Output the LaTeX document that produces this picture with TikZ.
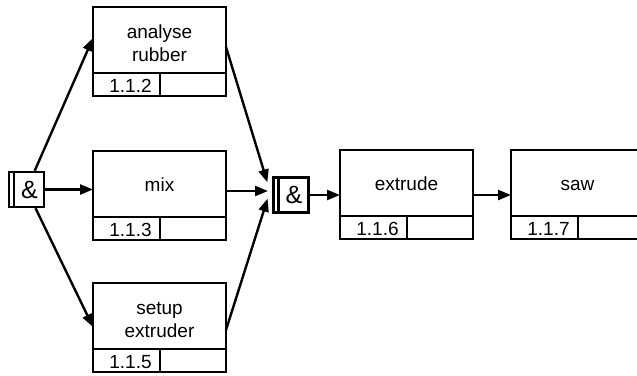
\documentclass[tikz,border=0pt]{standalone}
\usepackage{fontspec}
\setmainfont{Liberation Sans}
\usetikzlibrary{arrows.meta,calc}
\newcommand\actlines[1]{\raisebox{-5pt}[\height][\depth]{\begin{tabular}{@{}c@{}}#1\end{tabular}}}
\begin{document}
\begin{tikzpicture}[x=1pt,y=-1pt,
  lw/.style={line width=2.4pt},
  act/.style={draw,lw,outer sep=0pt,minimum width=133pt,minimum height=66pt,inner sep=0pt,font=\fontsize{19}{23}\selectfont},
  one/.style={text height=18pt,text depth=4pt},
  numcell/.style={draw,lw,outer sep=0pt,minimum width=67pt,minimum height=23pt,inner sep=0pt,anchor=north west},
  numtext/.style={anchor=base,inner sep=0pt,font=\fontsize{19}{20}\selectfont},
  emptycell/.style={draw,lw,outer sep=0pt,minimum width=66pt,minimum height=23pt,inner sep=0pt,anchor=north west},
  junction/.style={draw,lw,minimum width=35pt,minimum height=35pt,inner sep=0pt,font=\fontsize{25}{26}\selectfont},
  arr/.style={lw,-{Triangle[length=13pt,width=10pt]}}]
\clip (0,0) rectangle (637,375);
\fill[white] (0,0) rectangle (637,375);

% activity boxes
\node[act] (b1) at (159.5,40) {\actlines{analyse\\rubber}};
\node[numcell] (b1n) at (b1.south west) {};
\node[numtext] (b1t) at ($(b1n.south)+(4,-4)$) {1.1.2};
\node[emptycell] (b1x) at (b1n.north east) {};

\node[act,one] (b2) at (159.5,184) {mix};
\node[numcell] (b2n) at (b2.south west) {};
\node[numtext] (b2t) at ($(b2n.south)+(4,-4)$) {1.1.3};
\node[emptycell] (b2x) at (b2n.north east) {};

\node[act] (b3) at (159.5,316) {\actlines{setup\\extruder}};
\node[numcell] (b3n) at (b3.south west) {};
\node[numtext] (b3t) at ($(b3n.south)+(4,-4)$) {1.1.5};
\node[emptycell] (b3x) at (b3n.north east) {};

\node[act,one] (b4) at (406.5,183) {extrude};
\node[numcell] (b4n) at (b4.south west) {};
\node[numtext] (b4t) at ($(b4n.south)+(4,-4)$) {1.1.6};
\node[emptycell] (b4x) at (b4n.north east) {};

\node[act,one] (b5) at (577.5,183) {saw};
\node[numcell] (b5n) at (b5.south west) {};
\node[numtext] (b5t) at ($(b5n.south)+(4,-4)$) {1.1.7};
\node[emptycell] (b5x) at (b5n.north east) {};

% junctions
\node[junction] (a1) at (26.5,189.5) {\hspace{6pt}\&};
\draw[lw] ($(a1.north west)+(6,0)$) -- ($(a1.south west)+(6,0)$);
\node[junction] (a2) at (291,195) {\hspace{6pt}\&};
\draw[lw] ($(a2.north west)+(6,0)$) -- ($(a2.south west)+(6,0)$);

\coordinate (j) at (270,191);

% fan out
\draw[arr] (a1) -- ($(b1.north west)+(0,31)$);
\draw[arr] (a1.east) -- (a1.east -| b2.west);
\draw[arr] (a1) -- ($(b3.north west)+(0,44)$);

% fan in
\draw[arr,shorten >=9pt] ($(b1.north east)+(0,40)$) -- (j);
\draw[arr,shorten >=2pt] (b2.east |- j) -- (j);
\draw[arr,shorten >=8pt] ($(b3.north east)+(0,47)$) -- (j);

% sequence
\draw[arr] (a2.east) -- (a2.east -| b4.west);
\draw[arr] (b4.east |- a2.east) -- (b5.west |- a2.east);
\end{tikzpicture}
\end{document}
